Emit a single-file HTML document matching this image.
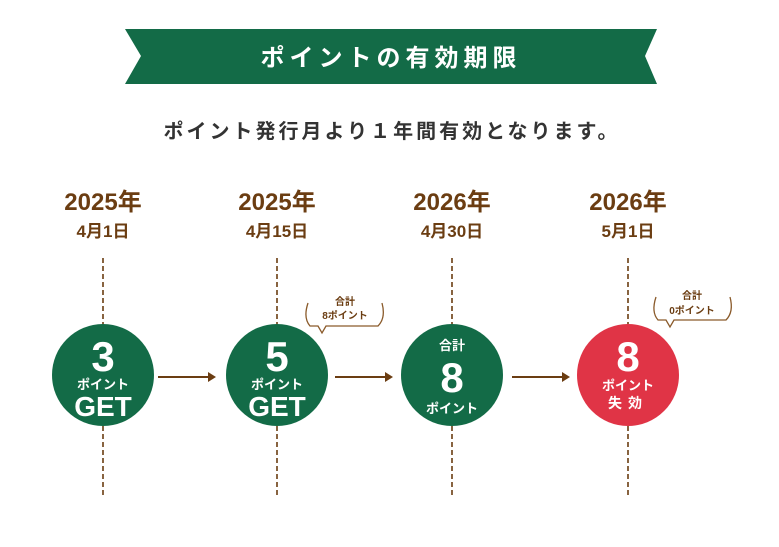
<!DOCTYPE html>
<html><head><meta charset="utf-8"><style>
html,body{margin:0;padding:0;background:#fff;}
svg{display:block;}
text{font-family:"Liberation Sans","Noto Sans CJK JP",sans-serif;}
</style></head><body>
<svg width="779" height="547" viewBox="0 0 779 547" xmlns="http://www.w3.org/2000/svg">
<polygon points="125,29 657,29 645,56 657,84 125,84 141,56" fill="#136b47"/>
<text x="391" y="66" text-anchor="middle" font-size="24" font-weight="bold" fill="#fff" letter-spacing="5">ポイントの有効期限</text>
<text x="392" y="138" text-anchor="middle" font-size="20" font-weight="bold" fill="#333" letter-spacing="3">ポイント発行月より１年間有効となります。</text>
<g fill="#6b3d12" font-weight="bold" text-anchor="middle">
<text x="103" y="210" font-size="24">2025年</text><text x="103" y="237" font-size="17">4月1日</text>
<text x="277" y="210" font-size="24">2025年</text><text x="277" y="237" font-size="17">4月15日</text>
<text x="452" y="210" font-size="24">2026年</text><text x="452" y="237" font-size="17">4月30日</text>
<text x="628" y="210" font-size="24">2026年</text><text x="628" y="237" font-size="17">5月1日</text>
</g>
<g stroke="#6b3d12" stroke-width="1.6" stroke-dasharray="5,3">
<line x1="103" y1="258" x2="103" y2="495"/><line x1="277" y1="258" x2="277" y2="495"/>
<line x1="452" y1="258" x2="452" y2="495"/><line x1="628" y1="258" x2="628" y2="495"/>
</g>
<g stroke="#6b3d12" stroke-width="2" fill="#6b3d12">
<line x1="158" y1="377" x2="210" y2="377"/><polygon points="216,377 208,372 208,382" stroke="none"/>
<line x1="335" y1="377" x2="387" y2="377"/><polygon points="393,377 385,372 385,382" stroke="none"/>
<line x1="512" y1="377" x2="564" y2="377"/><polygon points="570,377 562,372 562,382" stroke="none"/>
</g>
<g fill="#136b47"><circle cx="103" cy="375" r="51"/><circle cx="277" cy="375" r="51"/><circle cx="452" cy="375" r="51"/></g>
<circle cx="628" cy="375" r="51" fill="#e03446"/>
<g fill="#fff" font-weight="bold" text-anchor="middle">
<text x="103" y="371" font-size="42">3</text>
<text x="103" y="389" font-size="13">ポイント</text>
<text x="103" y="416" font-size="28">GET</text>
<text x="277" y="371" font-size="42">5</text>
<text x="277" y="389" font-size="13">ポイント</text>
<text x="277" y="416" font-size="28">GET</text>
<text x="452" y="350" font-size="13">合計</text>
<text x="452" y="392" font-size="42">8</text>
<text x="452" y="413" font-size="13">ポイント</text>
<text x="628" y="371" font-size="42">8</text>
<text x="628" y="390" font-size="13">ポイント</text>
<text x="628" y="408" font-size="14" letter-spacing="6">失効</text>
</g>
<g fill="none" stroke="#8a5a2a" stroke-width="1.3">
<path d="M308,303 Q303,318 310,326 L318,326 L322,333 L326,326 L378,326 Q386,318 382,303"/>
<path d="M656,297 Q651,312 658,320 L666,320 L670,327 L674,320 L726,320 Q734,312 730,297"/>
</g>
<g fill="#6b3d12" font-weight="bold" text-anchor="middle" font-size="10">
<text x="345" y="305">合計</text><text x="345" y="319">8ポイント</text>
<text x="692" y="299">合計</text><text x="692" y="314">0ポイント</text>
</g>
</svg>
</body></html>
